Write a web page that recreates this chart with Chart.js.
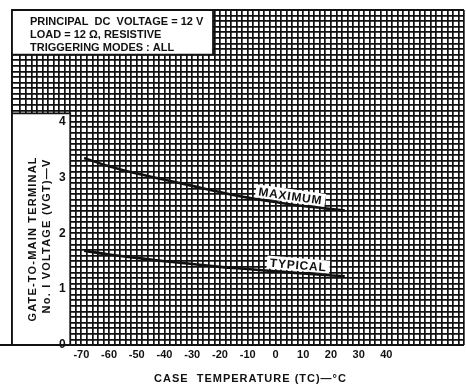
<!DOCTYPE html>
<html>
<head>
<meta charset="utf-8">
<script src="https://cdn.jsdelivr.net/npm/chart.js@4.4.1/dist/chart.umd.min.js"></script>
<style>
  html, body { margin: 0; padding: 0; background: #fff; }
</style>
</head>
<body>
<canvas id="vgtChart" width="466" height="388"></canvas>
<script>
// Case temperature (deg C) and gate trigger voltage (V)
const temps = [-69, -60, -50, -40, -30, -20, -10, 0, 10, 25];
const maxVgt = [3.35, 3.20, 3.07, 2.96, 2.85, 2.74, 2.64, 2.56, 2.49, 2.41];
const typVgt = [1.69, 1.62, 1.56, 1.50, 1.45, 1.40, 1.36, 1.32, 1.28, 1.23];

// Labelled ticks (grid itself runs every 2 deg C / 0.1 V)
const xTickLabels = [-70, -60, -50, -40, -30, -20, -10, 0, 10, 20, 30, 40];
const yTickLabels = [0, 1, 2, 3, 4];

const noteLines = ['PRINCIPAL  DC  VOLTAGE = 12 V', 'LOAD = 12 \u03A9, RESISTIVE', 'TRIGGERING MODES : ALL'];
const yTitle = ['GATE-TO-MAIN TERMINAL', 'No. I VOLTAGE (VGT)\u2014V'];
const xTitle = 'CASE  TEMPERATURE (TC)\u2014\u00B0C';

const FONT = '"Liberation Sans", Arial, sans-serif';
const INK = '#111';

const toPoints = (vals) => temps.map((t, i) => ({ x: t, y: vals[i] }));

// white note box + white strip for the y axis title, drawn over the grid
const panelPlugin = {
  id: 'panels',
  beforeDatasetsDraw(chart) {
    const { ctx, chartArea: a, scales: { x, y } } = chart;
    const boxR = x.getPixelForValue(-22.5);
    const boxB = y.getPixelForValue(5.2);
    const stripR = x.getPixelForValue(-74);
    const stripT = y.getPixelForValue(4.15);
    ctx.save();
    ctx.fillStyle = '#fff';
    ctx.fillRect(a.left, a.top, boxR - a.left, boxB - a.top);
    ctx.fillRect(a.left, stripT, stripR - a.left, a.bottom - stripT);
    ctx.strokeStyle = INK;
    ctx.lineWidth = 1.8;
    ctx.beginPath();
    // frame
    ctx.moveTo(a.left, a.bottom); ctx.lineTo(a.left, a.top); ctx.lineTo(a.right, a.top);
    ctx.moveTo(0, a.bottom); ctx.lineTo(a.right, a.bottom);
    // note box
    ctx.moveTo(a.left, boxB); ctx.lineTo(boxR, boxB); ctx.lineTo(boxR, a.top);
    // y title strip
    ctx.moveTo(a.left, stripT); ctx.lineTo(stripR, stripT); ctx.lineTo(stripR, a.bottom);
    ctx.stroke();
    ctx.restore();
  },
  afterDatasetsDraw(chart) {
    const { ctx, scales: { x, y } } = chart;
    const curveLabel = (text, vals, t) => {
      // follow the curve between its two nearest points
      let i = temps.findIndex((v) => v > t) - 1;
      if (i < 0) i = 0;
      const x0 = x.getPixelForValue(temps[i]), x1 = x.getPixelForValue(temps[i + 1]);
      const y0 = y.getPixelForValue(vals[i]), y1 = y.getPixelForValue(vals[i + 1]);
      const f = (t - temps[i]) / (temps[i + 1] - temps[i]);
      const px = x.getPixelForValue(t), py = y0 + (y1 - y0) * f;
      const ang = Math.atan2(y1 - y0, x1 - x0);
      ctx.save();
      ctx.translate(px, py);
      ctx.rotate(ang);
      ctx.font = 'bold 12px ' + FONT;
      ctx.letterSpacing = '0.8px';
      const w = ctx.measureText(text).width;
      ctx.fillStyle = '#fff';
      ctx.fillRect(-w / 2 - 3, -15, w + 6, 13);
      ctx.fillStyle = INK;
      ctx.textAlign = 'center';
      ctx.textBaseline = 'alphabetic';
      ctx.fillText(text, 0, -4);
      ctx.restore();
    };
    curveLabel('MAXIMUM', maxVgt, 5);
    curveLabel('TYPICAL', typVgt, 8);
  },
  afterDraw(chart) {
    const { ctx, chartArea: a, scales: { x, y } } = chart;
    ctx.save();
    ctx.fillStyle = INK;
    ctx.font = 'bold 11px ' + FONT;
    ctx.textBaseline = 'middle';
    noteLines.forEach((line, i) => ctx.fillText(line, a.left + 18, a.top + 12 + i * 13));
    // x axis title, centred under the labelled part of the scale
    ctx.textAlign = 'center';
    ctx.font = 'bold 11px ' + FONT;
    ctx.letterSpacing = '1px';
    ctx.fillText(xTitle, x.getPixelForValue(-9), a.bottom + 34);
    // rotated y title in the strip
    const stripR = x.getPixelForValue(-74);
    const cx = (a.left + stripR) / 2 - 1;
    const cy = y.getPixelForValue(1.9);
    ctx.translate(cx, cy);
    ctx.rotate(-Math.PI / 2);
    ctx.font = 'bold 11px ' + FONT;
    ctx.letterSpacing = '1.2px';
    ctx.fillText(yTitle[0], 0, -7);
    ctx.fillText(yTitle[1], 3, 7);
    ctx.restore();
  }
};

const ctx = document.getElementById('vgtChart').getContext('2d');

new Chart(ctx, {
  type: 'line',
  data: {
    datasets: [
      { label: 'MAXIMUM', data: toPoints(maxVgt), borderColor: INK, borderWidth: 2.6, pointRadius: 0, tension: 0.4, fill: false },
      { label: 'TYPICAL', data: toPoints(typVgt), borderColor: INK, borderWidth: 2.6, pointRadius: 0, tension: 0.4, fill: false }
    ]
  },
  plugins: [panelPlugin],
  options: {
    responsive: false,
    animation: false,
    layout: { padding: { left: 12, top: 10, right: 2, bottom: 0 } },
    plugins: { legend: { display: false }, tooltip: { enabled: false } },
    scales: {
      x: {
        type: 'linear',
        min: -95,
        max: 68,
        afterFit: (s) => { s.height = 43; s.paddingLeft = 0; s.paddingRight = 0; },
        grid: { color: INK, lineWidth: 1.7, drawTicks: false },
        border: { display: false },
        ticks: {
          stepSize: 2,
          maxTicksLimit: 1000,
          autoSkip: false,
          maxRotation: 0,
          padding: 3,
          color: INK,
          font: { family: FONT, size: 11, weight: 'bold' },
          callback: (v) => (xTickLabels.includes(v) ? String(v) : '')
        },
        title: { display: false }
      },
      y: {
        type: 'linear',
        min: 0,
        max: 6,
        afterFit: (s) => { s.width = 0; s.paddingTop = 0; s.paddingBottom = 0; },
        grid: { color: INK, lineWidth: 1.7, drawTicks: false },
        border: { display: false },
        ticks: {
          z: 1,
          mirror: true,
          padding: 47,
          stepSize: 0.1,
          maxTicksLimit: 1000,
          autoSkip: false,
          color: INK,
          font: { family: FONT, size: 12, weight: 'bold' },
          callback: (v) => {
            const r = Math.round(v * 10) / 10;
            return yTickLabels.includes(r) ? String(r) : '';
          }
        }
      }
    }
  }
});
</script>
</body>
</html>
